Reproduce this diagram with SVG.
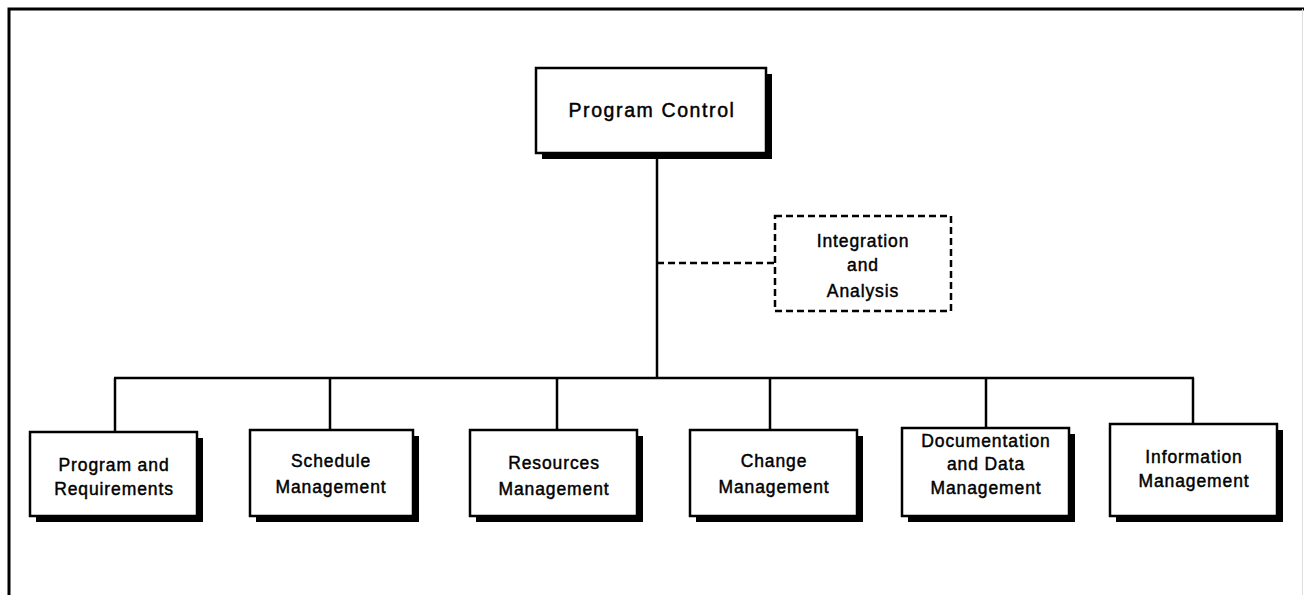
<svg xmlns="http://www.w3.org/2000/svg" width="1304" height="595" viewBox="0 0 1304 595">
<style>
.box{fill:#fff;stroke:#000;stroke-width:2.5}
.sh{fill:#000}
.t{font-family:"Liberation Sans",Arial,sans-serif;font-size:17.5px;letter-spacing:0.9px;fill:#000;stroke:#000;stroke-width:0.45;text-anchor:middle}
.big{font-size:19.5px;letter-spacing:1.6px}
.c{stroke:#000;stroke-width:2.5;fill:none}
.d{stroke:#000;stroke-width:2.5;fill:none;stroke-dasharray:7,4}
</style>
<rect width="1304" height="595" fill="#fff"/>
<g id="frame">
<path d="M9 595 V9 H1304" stroke="#000" stroke-width="3" fill="none"/>
<line x1="1302.5" y1="9" x2="1302.5" y2="595" stroke="#ddd" stroke-width="1"/>
</g>
<g id="connectors">
<line class="c" x1="657" y1="153" x2="657" y2="378"/>
<line class="c" x1="114" y1="378" x2="1194" y2="378"/>
<line class="c" x1="115" y1="378" x2="115" y2="432"/>
<line class="c" x1="330" y1="378" x2="330" y2="430"/>
<line class="c" x1="557" y1="378" x2="557" y2="430"/>
<line class="c" x1="770" y1="378" x2="770" y2="430"/>
<line class="c" x1="986" y1="378" x2="986" y2="428"/>
<line class="c" x1="1193" y1="378" x2="1193" y2="424"/>
<line class="d" x1="657" y1="263" x2="775" y2="263"/>
</g>
<g id="program-control">
<rect class="sh" x="542" y="74" width="230" height="85"/>
<rect class="box" x="536" y="68" width="230" height="85"/>
<text class="t big" x="652" y="117">Program Control</text>
</g>
<g id="integration">
<rect class="d" x="775" y="216" width="176" height="95"/>
<text class="t" x="863" y="247">Integration</text>
<text class="t" x="863" y="271">and</text>
<text class="t" x="863" y="297">Analysis</text>
</g>
<g id="program-requirements">
<rect class="sh" x="36" y="438" width="167" height="84"/>
<rect class="box" x="30" y="432" width="167" height="84"/>
<text class="t" x="114" y="471">Program and</text>
<text class="t" x="114" y="495">Requirements</text>
</g>
<g id="schedule-management">
<rect class="sh" x="256" y="436" width="163" height="86"/>
<rect class="box" x="250" y="430" width="163" height="86"/>
<text class="t" x="331" y="467">Schedule</text>
<text class="t" x="331" y="493">Management</text>
</g>
<g id="resources-management">
<rect class="sh" x="476" y="436" width="167" height="86"/>
<rect class="box" x="470" y="430" width="167" height="86"/>
<text class="t" x="554" y="469">Resources</text>
<text class="t" x="554" y="495">Management</text>
</g>
<g id="change-management">
<rect class="sh" x="696" y="436" width="167" height="86"/>
<rect class="box" x="690" y="430" width="167" height="86"/>
<text class="t" x="774" y="467">Change</text>
<text class="t" x="774" y="493">Management</text>
</g>
<g id="documentation-data-management">
<rect class="sh" x="908" y="434" width="167" height="88"/>
<rect class="box" x="902" y="428" width="167" height="88"/>
<text class="t" x="986" y="447">Documentation</text>
<text class="t" x="986" y="470">and Data</text>
<text class="t" x="986" y="494">Management</text>
</g>
<g id="information-management">
<rect class="sh" x="1116" y="430" width="167" height="92"/>
<rect class="box" x="1110" y="424" width="167" height="92"/>
<text class="t" x="1194" y="463">Information</text>
<text class="t" x="1194" y="487">Management</text>
</g>
</svg>
